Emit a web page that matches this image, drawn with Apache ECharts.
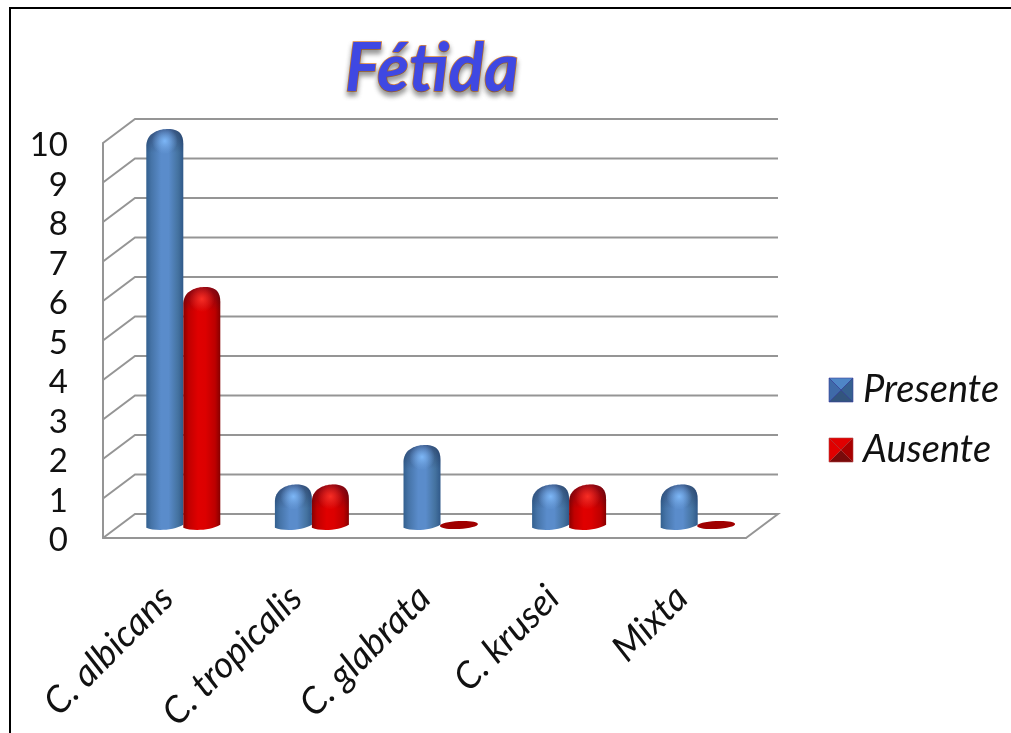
<!DOCTYPE html>
<html>
<head>
<meta charset="utf-8">
<title>Fétida</title>
<script src="https://cdn.jsdelivr.net/npm/echarts@6/dist/echarts.min.js"></script>
<style>
  html, body { margin: 0; padding: 0; background: #fff; overflow: hidden; }
  #main { width: 1011px; height: 733px; }
</style>
</head>
<body>
<div id="main"></div>
<script>
var categories = ['C. albicans', 'C. tropicalis', 'C. glabrata', 'C. krusei', 'Mixta'];
var presente = [10, 1, 2, 1, 1];
var ausente = [6, 1, 0, 1, 0];
var yTicks = [0, 1, 2, 3, 4, 5, 6, 7, 8, 9, 10];

var blueStops = ['#33608f', '#4674a8', '#5a8ccb', '#5a8ccb', '#44729f', '#30598a'];
var redStops = ['#8a0000', '#c00000', '#e00000', '#dc0000', '#bc0000', '#860000'];
var blueGlow = 'rgba(130,190,255,0.9)';
var redGlow = 'rgba(255,50,40,0.9)';

var wallX = 32, wallY = 24; // profundidad de la pared
var offX = 16, offY = 11;   // las barras van en medio del piso
var myChart = echarts.init(document.getElementById('main'));

function toPoints(values) {
  return values.map(function (v, i) { return [i, v]; });
}

function renderWall(params, api) {
  var y = api.coord([0, api.value(1)])[1];
  var cs = params.coordSys;
  var pts = [[cs.x, y], [cs.x + wallX, y - wallY], [cs.x + cs.width + wallX, y - wallY]];
  if (api.value(1) === 0) pts.push([cs.x + cs.width, y]);
  return {
    type: 'polyline',
    shape: { points: pts },
    style: { stroke: '#959595', lineWidth: 2, fill: null }
  };
}

function barRenderer(side, stops, glow, flat) {
  return function (params, api) {
    var p = api.coord([api.value(0), api.value(1)]);
    var base = api.coord([api.value(0), 0]);
    var w = 37;
    var cx = p[0] + offX + side * w / 2;
    var l = cx - w / 2, r = cx + w / 2;
    var by = base[1] - offY, ty = p[1] - offY - 3;
    if (api.value(1) === 0) {
      return {
        type: 'ellipse',
        shape: { cx: cx, cy: by - 2, rx: 19, ry: 4 },
        rotation: 0.05,
        originX: cx,
        originY: by - 2,
        style: { fill: flat }
      };
    }
    var d = 'M' + l + ' ' + (by + 0.5) +
      'C' + (l + 8) + ' ' + (by + 4) + ' ' + (r - 10) + ' ' + (by + 3.5) + ' ' + r + ' ' + (by - 2.5) +
      'L' + r + ' ' + (ty + 15) +
      'C' + r + ' ' + (ty + 4) + ' ' + (r - 5) + ' ' + (ty + 1) + ' ' + (r - 13) + ' ' + ty +
      'C' + (l + 16) + ' ' + (ty - 0.5) + ' ' + (l + 1) + ' ' + (ty + 2) + ' ' + l + ' ' + (ty + 16) + 'Z';
    var rect = { x: l, y: ty, width: w, height: by + 3 - ty };
    function pathShape() {
      return { pathData: d, layout: 'cover', x: rect.x, y: rect.y, width: rect.width, height: rect.height };
    }
    return {
      type: 'group',
      children: [
        {
          type: 'path',
          shape: pathShape(),
          style: {
            fill: new echarts.graphic.LinearGradient(0, 0, 1, 0, [
              { offset: 0, color: stops[0] },
              { offset: 0.14, color: stops[1] },
              { offset: 0.4, color: stops[2] },
              { offset: 0.6, color: stops[3] },
              { offset: 0.86, color: stops[4] },
              { offset: 1, color: stops[5] }
            ])
          }
        },
        {
          type: 'path',
          shape: pathShape(),
          style: {
            fill: new echarts.graphic.LinearGradient(0, ty, 0, ty + 24, [
              { offset: 0, color: 'rgba(20,20,50,0.38)' },
              { offset: 1, color: 'rgba(20,20,50,0)' }
            ], true)
          }
        },
        {
          type: 'circle',
          shape: { cx: cx, cy: ty + 12, r: 13 },
          style: {
            fill: new echarts.graphic.RadialGradient(0.5, 0.5, 0.5, [
              { offset: 0, color: glow },
              { offset: 1, color: glow.replace(/[\d.]+\)$/, '0)') }
            ])
          }
        }
      ]
    };
  };
}

// cuadro y cuadritos de la leyenda: arriba, derecha, abajo, izquierda
function swatch(x, y, colors, border) {
  var s = 24, c = [x + s / 2, y + s / 2];
  var a = [x, y], b = [x + s, y], e = [x + s, y + s], f = [x, y + s];
  return [[a, b], [b, e], [e, f], [f, a]].map(function (t, i) {
    return {
      type: 'polygon',
      z: 20,
      shape: { points: [t[0], t[1], c] },
      style: { fill: colors[i], stroke: border, lineWidth: 0.6 }
    };
  });
}

myChart.setOption({
  animation: false,
  backgroundColor: '#fff',
  title: {
    text: 'Fétida',
    left: 340,
    top: 32,
    textStyle: {
      fontFamily: 'Lato',
      fontStyle: 'italic',
      fontWeight: 'bold',
      fontSize: 66,
      color: '#3f48e2',
      textBorderColor: '#e0893a',
      textBorderWidth: 1.5,
      textShadowColor: 'rgba(0,0,0,0.4)',
      textShadowBlur: 5,
      textShadowOffsetY: 4
    }
  },
  legend: {
    orient: 'vertical',
    left: 829,
    top: 371,
    padding: 0,
    itemWidth: 24,
    itemHeight: 24,
    itemGap: 22,
    icon: 'rect',
    data: ['Presente', 'Ausente'],
    textStyle: {
      fontFamily: 'Lato',
      fontStyle: 'italic',
      fontSize: 38,
      color: '#111',
      padding: [0, 0, 0, 5]
    }
  },
  grid: { left: 103, top: 143, width: 643, height: 395, outerBoundsMode: 'none' },
  xAxis: {
    type: 'category',
    data: categories,
    axisTick: { show: false },
    axisLine: { lineStyle: { color: '#959595', width: 2 } },
    axisLabel: {
      interval: 0,
      rotate: 45,
      margin: 54,
      fontFamily: 'Lato',
      fontStyle: 'italic',
      fontSize: 37,
      color: '#111'
    }
  },
  yAxis: {
    type: 'value',
    min: 0,
    max: 10,
    interval: 1,
    splitLine: { show: false },
    axisTick: { show: false },
    axisLine: { show: true, lineStyle: { color: '#959595', width: 2 } },
    axisLabel: {
      margin: 35,
      formatter: function (v) { return '{d|' + v + '}'; },
      rich: { d: { fontFamily: 'Lato', fontSize: 33, color: '#111', padding: [5, 0, 0, 0] } }
    }
  },
  graphic: [
    { type: 'polyline', shape: { points: [[10, 733], [10, 8], [1011, 8]] }, style: { stroke: '#000', lineWidth: 2, fill: null } }
  ].concat(
    swatch(829, 378, ['#4f86c6', '#36608f', '#33557e', '#3f6aa8'], '#3a3f9a'),
    swatch(829, 438, ['#e00000', '#a80000', '#780a0a', '#e00000'], '#b04040')
  ),
  series: [
    {
      type: 'custom',
      name: 'pared',
      silent: true,
      z: 1,
      data: yTicks.map(function (t) { return [0, t]; }),
      encode: { x: 0, y: 1 },
      renderItem: renderWall
    },
    {
      type: 'custom',
      name: 'Presente',
      z: 2,
      itemStyle: { color: '#3f6aa8' },
      data: toPoints(presente),
      encode: { x: 0, y: 1 },
      renderItem: barRenderer(-1, blueStops, blueGlow, '#2e5685')
    },
    {
      type: 'custom',
      name: 'Ausente',
      z: 3,
      itemStyle: { color: '#c00000' },
      data: toPoints(ausente),
      encode: { x: 0, y: 1 },
      renderItem: barRenderer(1, redStops, redGlow, '#a00000')
    }
  ]
});
</script>
</body>
</html>
